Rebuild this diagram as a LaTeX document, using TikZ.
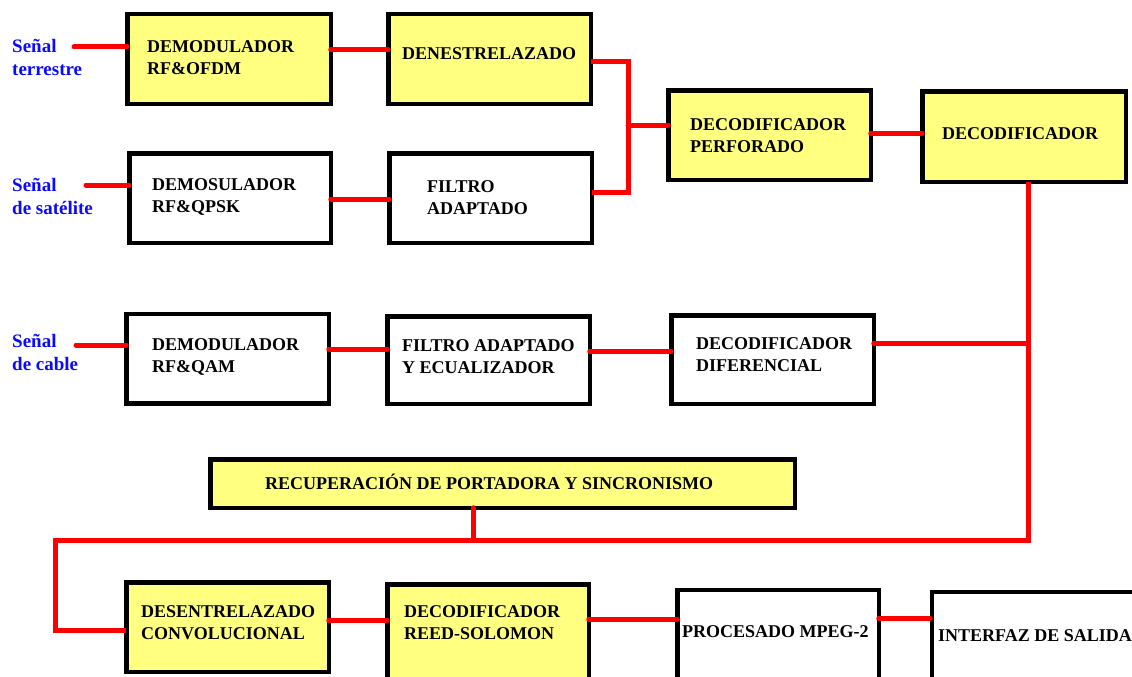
\documentclass[tikz,border=0pt]{standalone}
\usepackage{fontspec}
\setmainfont{Liberation Serif}
\usetikzlibrary{arrows.meta}
\definecolor{boxyellow}{RGB}{255,255,128}
\definecolor{wire}{RGB}{255,0,0}
\definecolor{inlabel}{RGB}{10,10,255}
\begin{document}
\begin{tikzpicture}[x=1pt,y=-1pt,
  block/.style={draw=black,line width=4.5pt,inner sep=0pt,outer sep=0pt,fill=white},
  yblock/.style={block,fill=boxyellow},
  txt/.style={anchor=west,align=left,inner sep=0pt,font=\fontsize{18}{22}\selectfont\bfseries},
  src/.style={anchor=west,align=left,inner sep=0pt,text=inlabel,font=\fontsize{19}{23}\selectfont\bfseries},
  link/.style={draw=wire,line width=5pt,line cap=round,line join=miter}]
\useasboundingbox (0,0) rectangle (1132,677);
\clip (0,0) rectangle (1132,677);
\fill[white] (0,0) rectangle (1132,677);

% --- upper chain: terrestrial and satellite inputs ---
\node[yblock,minimum width=203.5pt,minimum height=89.5pt] (ofdm) at (229,59) {};
\node[yblock,minimum width=202.5pt,minimum height=89.5pt] (denes) at (489.5,59) {};
\node[block,minimum width=201.5pt,minimum height=89.5pt] (qpsk) at (230,198) {};
\node[block,minimum width=202.5pt,minimum height=89.5pt] (filtro) at (490.5,198) {};
\node[yblock,minimum width=202.5pt,minimum height=89.5pt] (perf) at (769.5,135) {};
\node[yblock,minimum width=203.5pt,minimum height=90.5pt] (deco) at (1024,136.5) {};

% --- cable chain ---
\node[block,minimum width=202.5pt,minimum height=89.5pt] (qam) at (227.5,358.5) {};
\node[block,minimum width=202.5pt,minimum height=87.5pt] (fecu) at (488.5,360) {};
\node[block,minimum width=202.5pt,minimum height=88.5pt] (dif) at (772.5,359.5) {};

% --- synchronisation and output chain ---
\node[yblock,minimum width=584.5pt,minimum height=48.5pt] (recup) at (502.5,483.5) {};
\node[yblock,minimum width=202.5pt,minimum height=89.5pt] (desent) at (227.5,627) {};
\node[yblock,minimum width=201.5pt,minimum height=95.5pt] (reed) at (488,632) {};
\node[block,minimum width=201.5pt,minimum height=110pt] (mpeg) at (778,645) {};
\node[block,minimum width=220pt,minimum height=110pt] (salida) at (1042,647) {};

% --- texts ---
\node[txt] (t-ofdm) at (147,58) {DEMODULADOR\\RF\&OFDM};
\node[txt] (t-denes) at (402,54) {DENESTRELAZADO};
\node[txt] (t-qpsk) at (152,197) {DEMOSULADOR\\RF\&QPSK};
\node[txt] (t-filtro) at (427,198) {FILTRO\\ADAPTADO};
\node[txt] (t-perf) at (690,136) {DECODIFICADOR\\PERFORADO};
\node[txt] (t-deco) at (942,134) {DECODIFICADOR};
\node[txt] (t-qam) at (152,357) {DEMODULADOR\\RF\&QAM};
\node[txt] (t-fecu) at (402,357) {FILTRO ADAPTADO\\Y ECUALIZADOR};
\node[txt] (t-dif) at (696,355) {DECODIFICADOR\\DIFERENCIAL};
\node[txt] (t-recup) at (265,482) {RECUPERACIÓN DE PORTADORA Y SINCRONISMO};
\node[txt] (t-desent) at (141,623) {DESENTRELAZADO\\CONVOLUCIONAL};
\node[txt] (t-reed) at (404,623) {DECODIFICADOR\\REED-SOLOMON};
\node[txt] (t-mpeg) at (682,632) {PROCESADO MPEG-2};
\node[txt] (t-salida) at (938,636) {INTERFAZ DE SALIDA};

\node[src] (s-terr) at (12,57) {Señal\\terrestre};
\node[src] (s-sat) at (12,196) {Señal\\de satélite};
\node[src] (s-cab) at (12,352) {Señal\\de cable};

% --- input wires ---
\coordinate (in-terr) at (74,47);
\coordinate (in-sat) at (86,185);
\coordinate (in-cab) at (76,345);
\draw[link] (in-terr) -- (ofdm.west |- in-terr);
\draw[link] (in-sat) -- (qpsk.west |- in-sat);
\draw[link] (in-cab) -- (qam.west |- in-cab);

% --- upper chain wires ---
\draw[link] (ofdm.east |- 0,50) -- (denes.west |- 0,50);
\draw[link] (qpsk.east |- 0,199) -- (filtro.west |- 0,199);
\coordinate (merge) at (628,125);
\draw[link,line cap=butt] (denes.east |- 0,62) -| (merge) |- (filtro.east |- 0,192);
\draw[link] (merge) -- (perf.west |- merge);
\draw[link] (perf.east |- 0,133) -- (deco.west |- 0,133);

% --- cable chain wires ---
\draw[link] (qam.east |- 0,349) -- (fecu.west |- 0,349);
\draw[link] (fecu.east |- 0,351) -- (dif.west |- 0,351);
\coordinate (bus-r) at (1028,540);
\coordinate (bus-l) at (55,540);
\draw[link,line cap=butt] (deco.south -| bus-r) -- (bus-r) -- (bus-l) |- (desent.west |- 0,630);
\draw[link] (dif.east |- 0,343) -- (bus-r |- 0,343);
\draw[link] (recup.south -| 473,0) -- (473,540);

% --- output chain wires ---
\draw[link] (desent.east |- 0,620) -- (reed.west |- 0,620);
\draw[link] (reed.east |- 0,619) -- (mpeg.west |- 0,619);
\draw[link,-{Triangle[length=2pt,width=6pt]}] (mpeg.east |- 0,618) -- (salida.west |- 0,618);
\end{tikzpicture}
\end{document}
